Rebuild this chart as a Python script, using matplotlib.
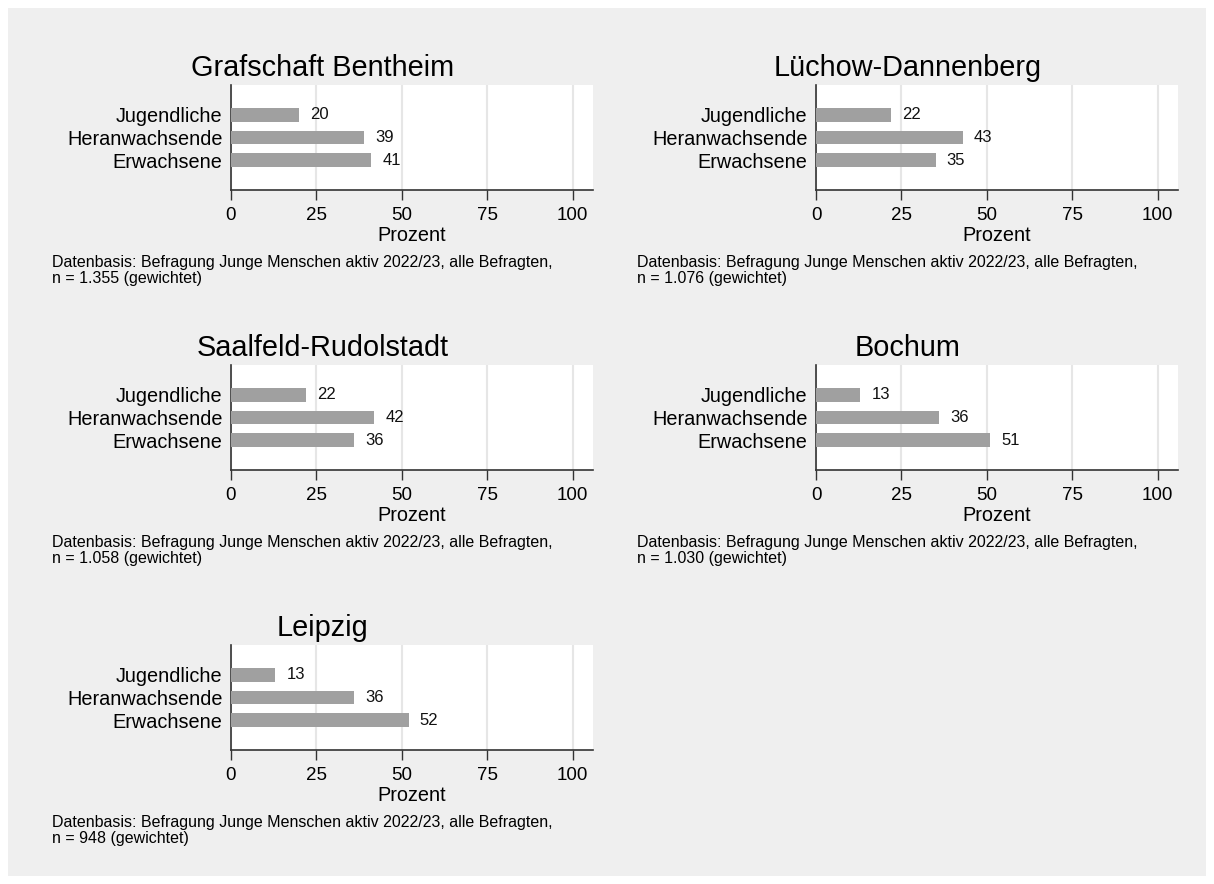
import matplotlib
matplotlib.use("Agg")
import matplotlib.pyplot as plt
from matplotlib.patches import Rectangle

plt.rcParams['font.family'] = ['Liberation Sans', 'DejaVu Sans']

regions = ["Grafschaft Bentheim", "Lüchow-Dannenberg", "Saalfeld-Rudolstadt", "Bochum", "Leipzig"]
groups = ["Jugendliche", "Heranwachsende", "Erwachsene"]
jugendliche = [20, 22, 22, 13, 13]
heranwachsende = [39, 43, 42, 36, 36]
erwachsene = [41, 35, 36, 51, 52]
n_weighted = ["1.355", "1.076", "1.058", "1.030", "948"]
xticks = [0, 25, 50, 75, 100]

W, H = 1214, 884
fig = plt.figure(figsize=(W / 100, H / 100), dpi=100)
fig.patch.set_facecolor("white")
fig.patches.append(Rectangle((8 / W, 8 / H), (1206 - 8) / W, (876 - 8) / H,
                             transform=fig.transFigure, facecolor="#efefef",
                             edgecolor="none", zorder=-10))


def box(x0, y0, x1, y1):
    return [x0 / W, 1 - y1 / H, (x1 - x0) / W, (y1 - y0) / H]


# left edge of the axes, left edge of the panel, top of the axes
cols = [(231, 52), (816, 637)]
rows = [85, 365, 645]

for i, name in enumerate(regions):
    ax_x, pan_x = cols[i % 2]
    top = rows[i // 2]
    ax = fig.add_axes(box(ax_x, top, ax_x + 362, top + 105))
    ax.set_zorder(1)
    ax.set_facecolor("white")
    vals = [jugendliche[i], heranwachsende[i], erwachsene[i]]
    ypos = [1, 2, 3]
    ax.barh(ypos, vals, height=0.62, color="#a0a0a0", zorder=3)
    for y, v in zip(ypos, vals):
        ax.annotate(str(v), (v, y), xytext=(8, 0), textcoords="offset points",
                    ha="left", va="center", fontsize=12, color="#111111")
    ax.set_xlim(0, 106)
    ax.set_ylim(4.33, -0.33)
    ax.set_yticks(ypos)
    ax.set_yticklabels(groups, fontsize=14.3)
    ax.tick_params(axis="y", length=0, pad=6)
    ax.set_xticks(xticks)
    ax.set_xticklabels([str(t) for t in xticks], fontsize=13.5)
    ax.tick_params(axis="x", length=7, width=1, color="#333333", pad=5.5)
    ax.grid(axis="x", color="#e6e6e6", linewidth=1.5, zorder=0)
    ax.set_xlabel("Prozent", fontsize=14.3, labelpad=1.5)
    for s in ["top", "right"]:
        ax.spines[s].set_visible(False)
    for s in ["left", "bottom"]:
        ax.spines[s].set_color("#333333")
        ax.spines[s].set_linewidth(1.2)

    fig.text((pan_x + ax_x + 362) / 2 / W, 1 - (top - 17) / H, name,
             ha="center", va="center", fontsize=20.8)
    fig.text(pan_x / W, 1 - (top + 170) / H,
             "Datenbasis: Befragung Junge Menschen aktiv 2022/23, alle Befragten,\n"
             "n = " + n_weighted[i] + " (gewichtet)",
             ha="left", va="top", fontsize=11.5, linespacing=1.05)

fig.savefig("out.png", dpi=100)
